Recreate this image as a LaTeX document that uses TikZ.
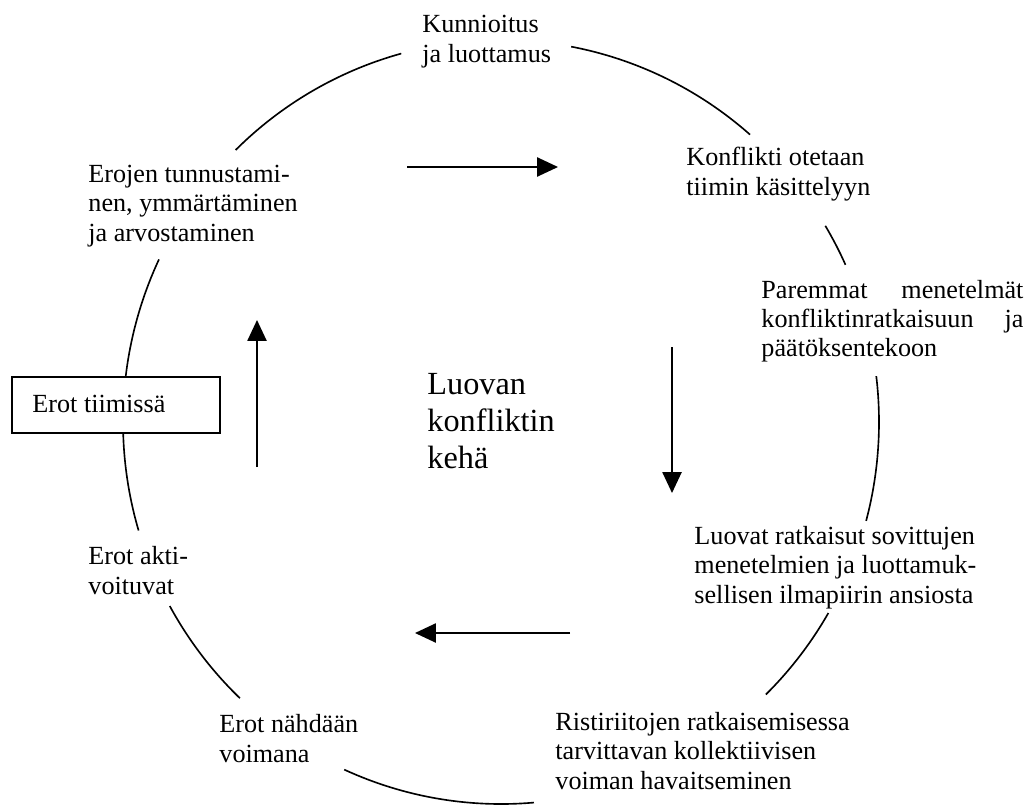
\documentclass[tikz,border=0pt]{standalone}
\usepackage{fontspec}
\setmainfont{Liberation Serif}
\usetikzlibrary{arrows.meta}
\newcommand\pxu{0.4587pt}
\begin{document}
\begin{tikzpicture}[x=0.4587pt, y=-0.4587pt,
  ring/.style={line width=0.75pt},
  flow/.style={line width=0.8pt, -{Triangle[length=9.6pt, width=8.8pt]}},
  lbl/.style={anchor=base west, inner sep=0pt, align=left,
    font=\fontsize{12}{13.5}\selectfont},
  title/.style={anchor=base west, inner sep=0pt, align=left,
    font=\fontsize{14.8}{16.8}\selectfont}]
\path[use as bounding box] (0,0) rectangle (1029,805);
\coordinate (C) at (501,422);
% circle of the cycle, broken where the stages sit
\newcommand\seg[2]{\draw[ring] ([shift={(-#1:378 and 382)}]C) arc[start angle=-#1, end angle=-#2, x radius=378, y radius=382];}
\seg{105.3}{134.6}
\seg{79.3}{48.8}
\seg{30.9}{24.3}
\seg{6.9}{-15}
\seg{-30}{-45.5}
\seg{-114.5}{-85}
\seg{-151.2}{-133.7}
\seg{-178.5}{-163.5}
\seg{154.8}{173.1}
% stages (multi-line labels are placed by the baseline of their last line)
\node[lbl] (kunn) at (422,62) {Kunnioitus\\ja luottamus};
\node[lbl] (konf) at (686,195) {Konflikti otetaan\\tiimin käsittelyyn};
\node[lbl, text width=262*\pxu] (par) at (761,298)
  {Paremmat\hfill menetelmät\\konfliktinratkaisuun\hfill ja\\päätöksentekoon};
\node[lbl] (luov) at (694,603) {Luovat ratkaisut sovittujen\\menetelmien ja luottamuk-\\sellisen ilmapiirin ansiosta};
\node[lbl] (rist) at (555,789) {Ristiriitojen ratkaisemisessa\\tarvittavan kollektiivisen\\voiman havaitseminen};
\node[lbl] (nahd) at (219,762) {Erot nähdään\\voimana};
\node[lbl] (akti) at (88,594) {Erot akti-\\voituvat};
\node[draw, line width=0.75pt, fill=white, anchor=north west,
  minimum width=208*\pxu, minimum height=56*\pxu] (box) at (11,376) {};
\node[lbl] (erot) at (32,412) {Erot tiimissä};
\node[lbl] (eroj) at (88,241) {Erojen tunnustami-\\nen, ymmärtäminen\\ja arvostaminen};
\node[title] (kehä) at (427,468) {Luovan\\konfliktin\\kehä};
% direction of the cycle
\coordinate (t1) at (407,167); \coordinate (t2) at (558,167);
\coordinate (r1) at (672,347); \coordinate (r2) at (672,493);
\coordinate (b1) at (570,633); \coordinate (b2) at (415,633);
\coordinate (l1) at (257,467); \coordinate (l2) at (257,320);
\draw[flow] (t1) -- (t2);
\draw[flow] (r1) -- (r2);
\draw[flow] (b1) -- (b2);
\draw[flow] (l1) -- (l2);
\end{tikzpicture}
\end{document}
